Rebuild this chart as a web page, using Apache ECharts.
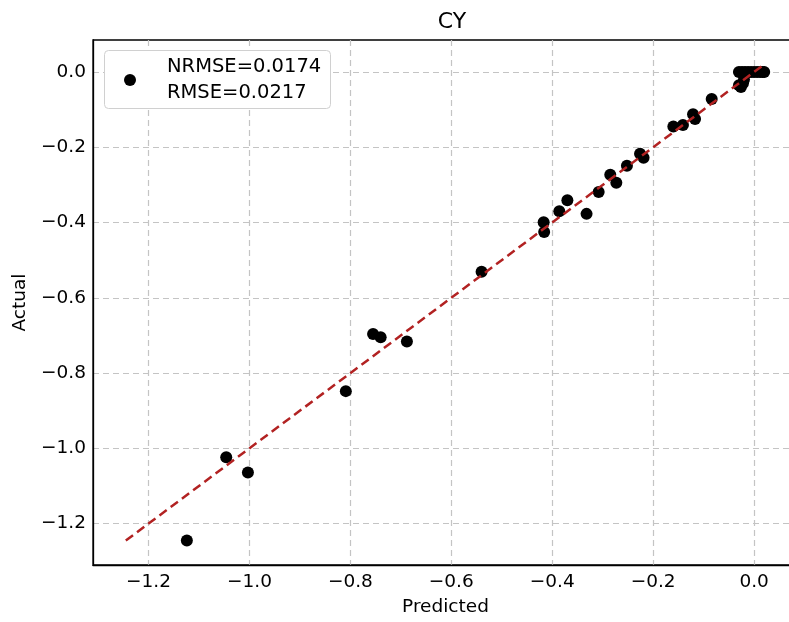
<!DOCTYPE html>
<html>
<head>
<meta charset="utf-8">
<script src="https://cdn.jsdelivr.net/npm/echarts@6/dist/echarts.min.js"></script>
<style>
  html, body { margin: 0; padding: 0; background: #fff; }
  #chart { width: 789px; height: 622px; }
</style>
</head>
<body>
<div id="chart"></div>
<script>
// Predicted vs actual values for CY
const predicted = [-1.124, -1.046, -1.003, -0.809, -0.755, -0.740, -0.688, -0.540,
  -0.417, -0.416, -0.386, -0.370, -0.332, -0.308, -0.285, -0.273, -0.252, -0.226,
  -0.219, -0.160, -0.141, -0.121, -0.117, -0.084,
  -0.030, -0.026, -0.022, -0.020,
  -0.030, -0.024, -0.018, -0.012, -0.006, 0.000, 0.006, 0.012, 0.017, 0.020];
const actual = [-1.245, -1.024, -1.064, -0.848, -0.696, -0.705, -0.716, -0.531,
  -0.399, -0.425, -0.370, -0.341, -0.377, -0.319, -0.273, -0.294, -0.249, -0.217,
  -0.228, -0.145, -0.141, -0.112, -0.125, -0.072,
  -0.035, -0.040, -0.030, -0.020,
  0, 0, 0, 0, 0, 0, 0, 0, 0, 0];

// Identity reference line endpoints
const identityEnds = [-1.245, 0.021];

// Tick values shared by both axes
const tickValues = [-1.2, -1.0, -0.8, -0.6, -0.4, -0.2, 0.0];

const legendLabel = 'NRMSE=0.0174\nRMSE=0.0217';

const fmt = v => {
  const s = (Math.abs(v) < 1e-9 ? 0 : v).toFixed(1);
  return s.replace('-', '\u2212');
};

const FONT = "'DejaVu Sans', sans-serif";
const chart = echarts.init(document.getElementById('chart'), null, { renderer: 'canvas' });

const axisCommon = {
  type: 'value',
  axisLine: { show: true, onZero: false, lineStyle: { color: '#000', width: 1.3 } },
  axisTick: { show: false, customValues: tickValues },
  axisLabel: {
    customValues: tickValues,
    formatter: fmt,
    color: '#000',
    fontFamily: FONT,
    fontSize: 18.5
  },
  splitLine: {
    show: true,
    lineStyle: { color: '#c4c4c4', type: [6, 4], width: 1.2 }
  },
  nameLocation: 'middle',
  nameTextStyle: { color: '#000', fontFamily: FONT, fontSize: 18.5 }
};

chart.setOption({
  animation: false,
  backgroundColor: '#fff',
  title: {
    text: 'CY',
    left: 447,
    textAlign: 'center',
    top: 6,
    textStyle: { color: '#000', fontFamily: FONT, fontSize: 22, fontWeight: 'normal' }
  },
  grid: {
    left: 93, width: 705, top: 40, bottom: 57,
    outerBoundsMode: 'none',
    containLabel: false,
    show: true, borderColor: '#000', borderWidth: 1.3
  },
  xAxis: Object.assign({}, axisCommon, {
    min: -1.31, max: 0.087,
    name: 'Predicted', nameGap: 33,
    axisLabel: Object.assign({}, axisCommon.axisLabel, { margin: 8 })
  }),
  yAxis: Object.assign({}, axisCommon, {
    min: -1.31, max: 0.085,
    name: 'Actual', nameGap: 62,
    axisLabel: Object.assign({}, axisCommon.axisLabel, { margin: 7 })
  }),
  // legend frame, drawn behind the legend entry
  graphic: [{
    type: 'rect',
    z: 3,
    shape: { x: 104.5, y: 50.5, width: 226, height: 58, r: 4 },
    style: { fill: '#fff', stroke: '#d0d0d0', lineWidth: 1 }
  }],
  legend: {
    data: [legendLabel],
    left: 124, top: 50,
    orient: 'vertical',
    z: 4,
    padding: [4, 0, 4, 0],
    itemWidth: 64,
    itemHeight: 12,
    textStyle: {
      color: '#000', fontFamily: FONT, fontSize: 19.5, lineHeight: 26
    }
  },
  series: [
    {
      name: legendLabel,
      type: 'scatter',
      symbol: 'circle',
      symbolSize: 12,
      itemStyle: { color: '#000', opacity: 1 },
      data: predicted.map((p, i) => [p, actual[i]]),
      z: 2
    },
    {
      name: 'identity',
      type: 'line',
      showSymbol: false,
      symbol: 'none',
      data: identityEnds.map(v => [v, v]),
      lineStyle: { color: '#b22222', width: 2.5, type: [9, 5] },
      z: 3
    }
  ]
});
</script>
</body>
</html>
